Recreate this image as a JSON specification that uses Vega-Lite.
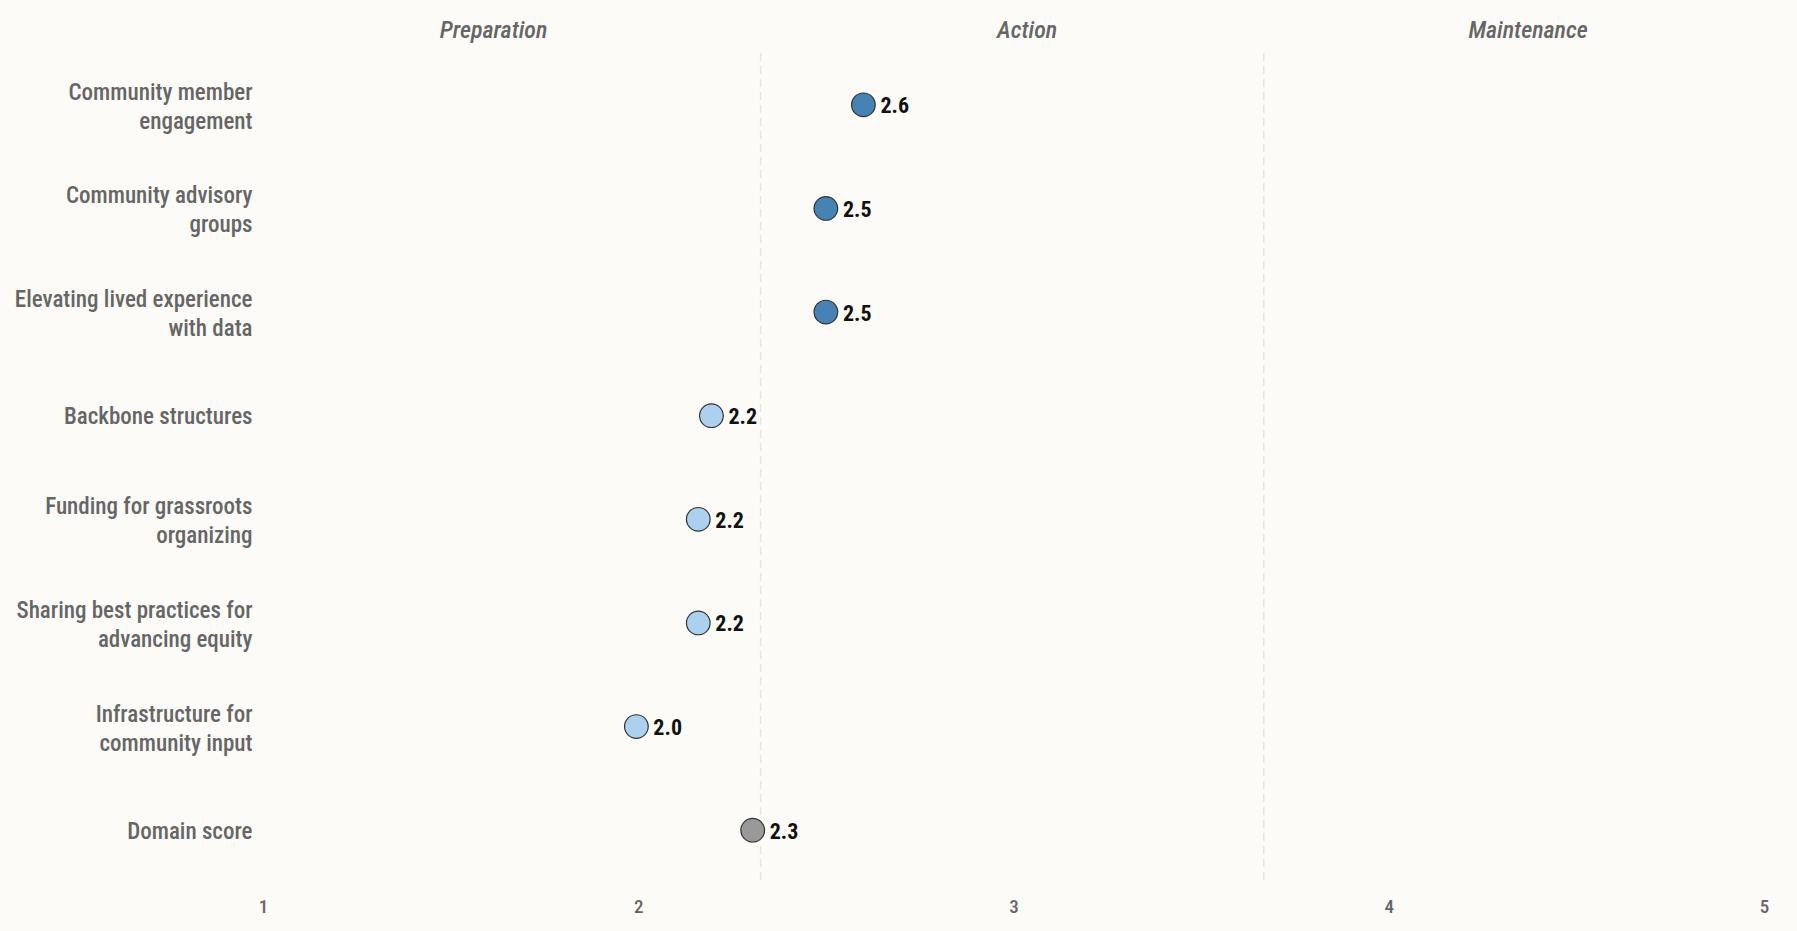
{
  "$schema": "https://vega.github.io/schema/vega-lite/v6.json",
  "width": 1501,
  "height": 829,
  "autosize": {"type": "none"},
  "padding": {"left": 263, "top": 53, "right": 33, "bottom": 49},
  "background": "#fcfbf7",
  "config": {
    "view": {"stroke": null},
    "font": "Roboto Condensed, Liberation Sans Narrow, DejaVu Sans Condensed, Roboto"
  },
  "datasets": {
    "items": [
      {"item": "Community member|engagement", "score": 2.6, "group": "Action"},
      {"item": "Community advisory|groups", "score": 2.5, "group": "Action"},
      {"item": "Elevating lived experience|with data", "score": 2.5, "group": "Action"},
      {"item": "Backbone structures", "score": 2.195, "group": "Preparation"},
      {"item": "Funding for grassroots|organizing", "score": 2.16, "group": "Preparation"},
      {"item": "Sharing best practices for|advancing equity", "score": 2.16, "group": "Preparation"},
      {"item": "Infrastructure for|community input", "score": 1.995, "group": "Preparation"},
      {"item": "Domain score", "score": 2.305, "group": "Domain"}
    ],
    "bounds": [
      {"b": 2.326},
      {"b": 3.667}
    ],
    "stages": [
      {"stage": "Preparation", "mid": 1.613},
      {"stage": "Action", "mid": 3.035},
      {"stage": "Maintenance", "mid": 4.37}
    ]
  },
  "resolve": {"axis": {"x": "independent"}},
  "layer": [
    {
      "data": {"name": "bounds"},
      "mark": {"type": "rule", "color": "#e6e4df", "strokeWidth": 1.5, "strokeDash": [8, 5]},
      "encoding": {
        "x": {"field": "b", "type": "quantitative", "scale": {"domain": [1, 5], "nice": false, "zero": false},
          "axis": {"orient": "bottom", "values": [1, 2, 3, 4, 5], "title": null, "grid": false, "ticks": false, "domain": false,
            "labelFontSize": 19, "labelFontWeight": 500, "labelColor": "#666666", "labelPadding": 15, "labelFlush": false, "format": "d"}}
      }
    },
    {
      "data": {"name": "stages"},
      "mark": {"type": "rule", "opacity": 0},
      "encoding": {
        "x": {"field": "mid", "type": "quantitative",
          "axis": {"orient": "top", "values": [1.613, 3.035, 4.37], "title": null, "grid": false, "ticks": false, "domain": false,
            "labelExpr": "datum.value < 2 ? 'Preparation' : datum.value < 4 ? 'Action' : 'Maintenance'",
            "labelFontSize": 24, "labelFontStyle": "italic", "labelFontWeight": 500, "labelColor": "#666666", "labelPadding": 11, "labelFlush": false}}
      }
    },
    {
      "data": {"name": "items"},
      "layer": [
        {
          "mark": {"type": "point", "shape": "circle", "filled": true, "size": 560, "stroke": "#333333", "strokeWidth": 1.2, "opacity": 1},
          "encoding": {
            "x": {"field": "score", "type": "quantitative", "axis": null},
            "y": {"field": "item", "type": "nominal", "sort": null,
              "axis": {"title": null, "ticks": false, "domain": false, "grid": false,
                "labelExpr": "split(datum.value, '|')", "labelFontSize": 23, "labelFontWeight": 500, "labelLineHeight": 29, "labelColor": "#666666",
                "labelOffset": {"condition": {"test": "indexof(datum.value, '|') >= 0", "value": -12.5}, "value": 1},
                "labelPadding": 11, "labelLimit": 400}},
            "color": {"field": "group", "type": "nominal", "legend": null,
              "scale": {"domain": ["Action", "Preparation", "Domain"], "range": ["#4682b4", "#acd1ee", "#999999"]}}
          }
        },
        {
          "mark": {"type": "text", "align": "left", "baseline": "middle", "dx": 17, "dy": 1.5, "fontSize": 22, "fontWeight": "bold", "color": "#111111"},
          "encoding": {
            "x": {"field": "score", "type": "quantitative", "axis": null},
            "y": {"field": "item", "type": "nominal", "sort": null},
            "text": {"field": "score", "type": "quantitative", "format": ".1f"}
          }
        }
      ]
    }
  ]
}
